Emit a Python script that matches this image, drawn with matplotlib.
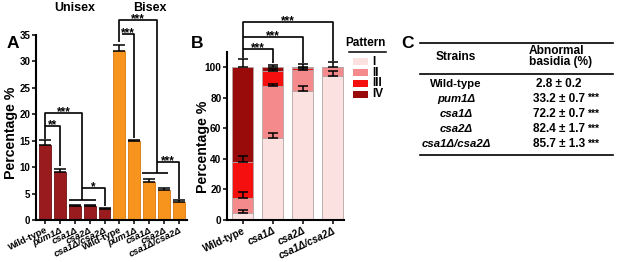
import numpy as np
import matplotlib
matplotlib.use("Agg")
import matplotlib.pyplot as plt
from matplotlib.lines import Line2D
from matplotlib.patches import Rectangle

plt.rcParams['font.family'] = ['Liberation Sans', 'DejaVu Sans']
plt.rcParams['font.weight'] = 'bold'

# ---------------- data ----------------
# Panel A
strainsA = ["Wild-type", "pum1Δ", "csa1Δ", "csa2Δ", "csa1Δ/csa2Δ"]
unisex_vals = [14.2, 9.1, 2.6, 2.6, 2.1]
unisex_err = [0.9, 0.5, 0.15, 0.15, 0.2]
bisex_vals = [32.0, 14.9, 7.2, 5.7, 3.4]
bisex_err = [1.2, 0.3, 0.5, 0.3, 0.3]

# Panel B (stacked patterns I..IV)
strainsB = ["Wild-type", "csa1Δ", "csa2Δ", "csa1Δ/csa2Δ"]
pattern_names = ["I", "II", "III", "IV"]
pat_I = [4.7, 53.5, 84.0, 94.0]
pat_II = [9.6, 33.8, 14.3, 6.0]
pat_III = [23.8, 10.2, 1.2, 0.0]
pat_IV = [61.9, 2.5, 0.5, 0.0]
err_I = [1.8, 3.5, 3.8, 3.3]
err_II = [4.2, 1.4, 1.0, 3.5]
err_III = [3.7, 1.5, 0.0, 0.0]
err_IV = [5.5, 1.3, 1.8, 0.0]

# Panel C table
table_strains = ["Wild-type", "pum1Δ", "csa1Δ", "csa2Δ", "csa1Δ/csa2Δ"]
table_values = ["2.8 ± 0.2", "33.2 ± 0.7", "72.2 ± 0.7", "82.4 ± 1.7", "85.7 ± 1.3"]
table_sig = ["", "***", "***", "***", "***"]

# --------------- style ---------------
W, H = 617, 262
fig = plt.figure(figsize=(W / 100, H / 100), dpi=100)
c_uni = "#991B1E"
c_bi = "#F7941D"
pat_colors = ["#FCE1E1", "#F58A8C", "#F50F0F", "#990A0A"]

def fx(px):
    return px / W

def fy(py):
    return 1 - py / H

# ---------------- Panel A ----------------
axA = fig.add_axes([fx(36), fy(220), fx(187) - fx(36), 185 / H])
vals = unisex_vals + bisex_vals
errs = unisex_err + bisex_err
cols = [c_uni] * len(unisex_vals) + [c_bi] * len(bisex_vals)
edges = ["#6E1214"] * len(unisex_vals) + ["#D9780E"] * len(bisex_vals)
xA = np.arange(len(vals))
axA.bar(xA, vals, width=0.8, color=cols, edgecolor=edges, linewidth=0.6, zorder=2)
axA.errorbar(xA, vals, yerr=[np.zeros(len(errs)), errs], fmt='none', ecolor='black',
             elinewidth=1.1, capsize=4.2, capthick=1.1, zorder=3)
axA.set_xlim(-0.61, 9.55)
axA.set_ylim(0, 35)
axA.set_yticks(np.arange(0, 36, 5))
labelsA = strainsA + strainsA
axA.set_xticks(xA)
axA.set_xticklabels(labelsA, rotation=26, ha='right', rotation_mode='anchor', fontsize=6.8)
for lab, name in zip(axA.get_xticklabels(), labelsA):
    if name != "Wild-type":
        lab.set_fontstyle('italic')
axA.tick_params(axis='y', labelsize=7, width=1.1, length=3, pad=1)
axA.tick_params(axis='x', width=1.1, length=3, pad=1)
for s in ['top', 'right']:
    axA.spines[s].set_visible(False)
for s in ['left', 'bottom']:
    axA.spines[s].set_linewidth(1.5)
axA.set_ylabel("Percentage %", fontsize=10.2, fontweight='bold')
axA.yaxis.set_label_coords((18 - 36) / 151, 0.47)

lw_b = 1.2

def segs(ax, pts):
    xs, ys = zip(*pts)
    ax.plot(xs, ys, color='black', lw=lw_b, clip_on=False, solid_capstyle='butt', zorder=4)

def stars(ax, x, y, txt, fs=8.5):
    ax.text(x, y, txt, ha='center', va='baseline', fontsize=fs, fontweight='bold', clip_on=False)

# Unisex brackets
segs(axA, [(0, 15.3), (0, 17.8), (1, 17.8), (1, 10.3)])
stars(axA, 0.5, 17.4, "**")
segs(axA, [(0, 17.8), (0, 20.2), (2.5, 20.2), (2.5, 3.8)])
segs(axA, [(1.6, 3.8), (3.4, 3.8)])
stars(axA, 1.25, 19.8, "***")
segs(axA, [(2.5, 6.0), (4, 6.0), (4, 2.6)])
stars(axA, 3.25, 5.6, "*")
# Bisex brackets
segs(axA, [(5, 33.6), (5, 37.8), (7.5, 37.8), (7.5, 8.9)])
segs(axA, [(6.55, 8.9), (8.3, 8.9)])
stars(axA, 6.25, 37.4, "***")
segs(axA, [(5.2, 35.2), (6, 35.2), (6, 15.6)])
stars(axA, 5.6, 34.8, "***")
segs(axA, [(7.5, 11.0), (9, 11.0), (9, 3.9)])
stars(axA, 8.25, 10.6, "***")

fig.text(fx(75), fy(8), "Unisex", ha='center', va='center', fontsize=9, fontweight='bold')
fig.text(fx(150), fy(8), "Bisex", ha='center', va='center', fontsize=9, fontweight='bold')

# ---------------- Panel B ----------------
axB = fig.add_axes([fx(227), fy(220), fx(344) - fx(227), 110 * 1.53 / H])
xB = np.arange(len(strainsB))
layers = [pat_I, pat_II, pat_III, pat_IV]
lerrs = [err_I, err_II, err_III, err_IV]
bottom = np.zeros(len(strainsB))
for layer, le, col in zip(layers, lerrs, pat_colors):
    layer = np.array(layer, dtype=float)
    axB.bar(xB, layer, bottom=bottom, width=0.7, color=col, edgecolor='#B5A5A5', linewidth=0.6, zorder=2)
    top = bottom + layer
    le = np.array(le, dtype=float)
    mask = (layer > 0) & (le > 0)
    axB.errorbar(xB[mask], top[mask], yerr=[np.zeros(mask.sum()), le[mask]], fmt='none',
                 ecolor='black', elinewidth=1.1, capsize=3.6, capthick=1.1, zorder=3)
    bottom = top
axB.set_xlim(-0.52, 3.37)
axB.set_ylim(0, 110)
axB.set_yticks(np.arange(0, 101, 20))
axB.set_xticks(xB)
axB.set_xticklabels(strainsB, rotation=25, ha='right', rotation_mode='anchor', fontsize=7.2)
for lab, name in zip(axB.get_xticklabels(), strainsB):
    if name != "Wild-type":
        lab.set_fontstyle('italic')
axB.tick_params(axis='y', labelsize=7.3, width=1.1, length=3, pad=1)
axB.tick_params(axis='x', width=1.1, length=3, pad=1)
for s in ['top', 'right']:
    axB.spines[s].set_visible(False)
for s in ['left', 'bottom']:
    axB.spines[s].set_linewidth(1.5)
axB.set_ylabel("Percentage %", fontsize=10.2, fontweight='bold')
axB.yaxis.set_label_coords((210 - 227) / 117, 0.434)

segs(axB, [(0, 106), (0, 129.6), (3, 129.6), (3, 104)])
stars(axB, 1.5, 128.3, "***")
segs(axB, [(0, 119.4), (2, 119.4), (2, 102.5)])
stars(axB, 1.0, 118.1, "***")
segs(axB, [(0, 111.8), (1, 111.8), (1, 102.5)])
stars(axB, 0.5, 110.5, "***")

# Legend (manual)
fig.text(fx(365), fy(43), "Pattern", ha='center', va='center', fontsize=8.5, fontweight='bold')
fig.add_artist(Line2D([fx(349), fx(386)], [fy(51.5), fy(51.5)], color='black', lw=1.1))
for i, (name, col) in enumerate(zip(pattern_names, pat_colors)):
    yc = 61.7 + i * 10.9
    fig.add_artist(Rectangle((fx(353), fy(yc + 3.5)), fx(368) - fx(353), 7 / H,
                             facecolor=col, edgecolor='none', transform=fig.transFigure))
    fig.text(fx(372), fy(yc), name, ha='left', va='center', fontsize=8.5, fontweight='bold')

# ---------------- Panel C ----------------
for yy in [42.5, 73.8, 155.3]:
    fig.add_artist(Line2D([fx(420), fx(613)], [fy(yy), fy(yy)], color='black', lw=1.2))
fig.text(fx(456), fy(57), "Strains", ha='center', va='center', fontsize=8.6, fontweight='bold')
fig.text(fx(529), fy(51.5), "Abnormal", ha='left', va='center', fontsize=8.6, fontweight='bold')
fig.text(fx(529), fy(62), "basidia (%)", ha='left', va='center', fontsize=8.6, fontweight='bold')
row_y = [84.3, 98.8, 114.2, 129.2, 144.0]
for name, val, sig, yy in zip(table_strains, table_values, table_sig, row_y):
    fig.text(fx(456), fy(yy), name, ha='center', va='center', fontsize=8.2, fontweight='bold',
             fontstyle='normal' if name == "Wild-type" else 'italic')
    fig.text(fx(559), fy(yy), val, ha='center', va='center', fontsize=8.5, fontweight='bold')
    if sig:
        fig.text(fx(587), fy(yy - 0.5), sig, ha='left', va='center', fontsize=7.5, fontweight='bold')

# Panel letters
fig.text(fx(13), fy(43), "A", ha='center', va='center', fontsize=12.5, fontweight='bold')
fig.text(fx(197), fy(43), "B", ha='center', va='center', fontsize=12.5, fontweight='bold')
fig.text(fx(407), fy(43), "C", ha='center', va='center', fontsize=12.5, fontweight='bold')

fig.savefig("out.png", dpi=100)
